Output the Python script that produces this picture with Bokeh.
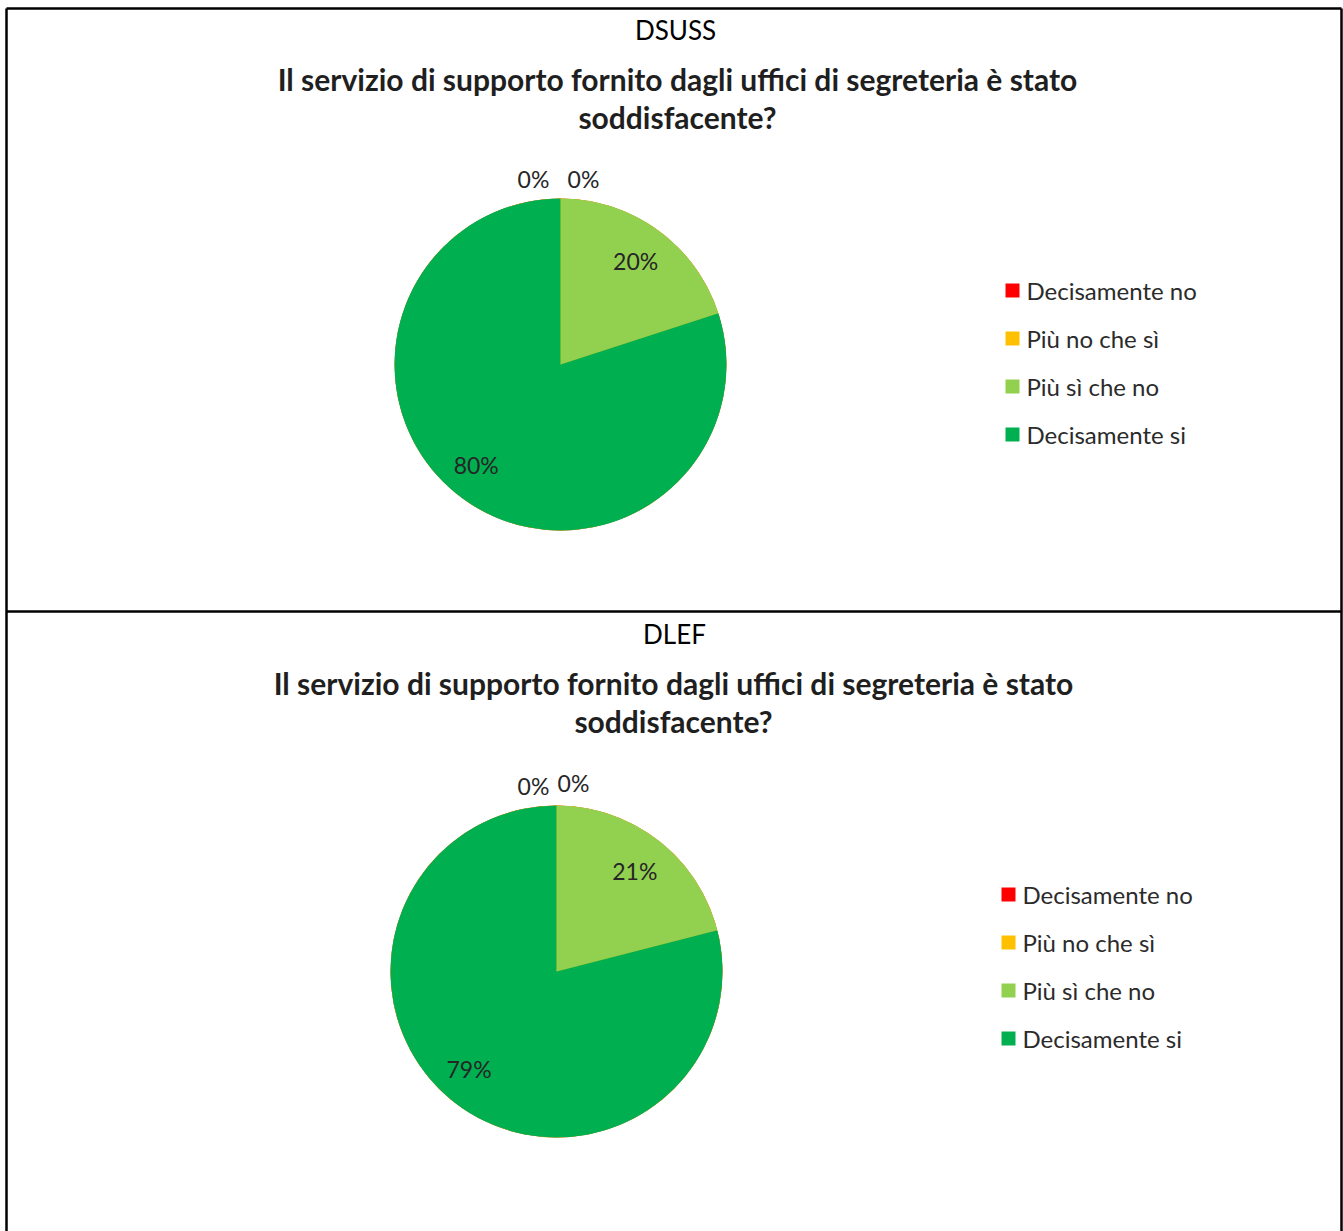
import math
from bokeh.plotting import figure
from bokeh.models import Range1d, ColumnDataSource
from bokeh.core.properties import value
from bokeh.embed import file_html
from bokeh.resources import INLINE

# ---- data -------------------------------------------------------------
categories = ["Decisamente no", "Più no che sì", "Più sì che no", "Decisamente si"]
colors = ["#FF0000", "#FFC000", "#92D050", "#00B050"]
panel_names = ["DSUSS", "DLEF"]
dsuss_pct = [0, 0, 20, 80]
dlef_pct = [0, 0, 21, 79]
title_lines = ["Il servizio di supporto fornito dagli uffici di segreteria è stato",
               "soddisfacente?"]

W, H = 1343, 1231
FONT = "Lato"

p = figure(width=W, height=H, x_range=Range1d(0, W), y_range=Range1d(0, H),
           x_axis_type=None, y_axis_type=None, min_border=0,
           toolbar_location=None, output_backend="svg")
p.grid.visible = False
p.outline_line_color = None
p.background_fill_color = "white"


def Y(y):
    # page pixels (top-down) -> plot units (bottom-up)
    return H - y


# table borders
p.multi_line(xs=[[6, 1341], [6, 6], [1341, 1341], [6, 1341]],
             ys=[[Y(8), Y(8)], [Y(8), Y(H + 5)], [Y(8), Y(H + 5)], [Y(611), Y(611)]],
             line_color="black", line_width=2.5)

panels = [
    dict(name=panel_names[0], vals=dsuss_pct, top=0, hx=675, cx=560, cy=364, tx=677,
         lx=1005, zero_dx=[-27, 23], zero_dy=[-1, -1]),
    dict(name=panel_names[1], vals=dlef_pct, top=604, hx=674, cx=556, cy=971, tx=673,
         lx=1001, zero_dx=[-23, 17], zero_dy=[-1, -4]),
]
R = 166
# inside labels of large slices sit slightly past the slice middle
BIG_SLICE_BIAS = math.radians(4)

for pn in panels:
    top = pn["top"]
    vals = pn["vals"]
    total = float(sum(vals))

    # cell header and chart title
    p.text(x=[pn["hx"]], y=[Y(top + 29)], text=[pn["name"]],
           text_font=value(FONT), text_font_size=value("26px"), text_color="black",
           text_align="center", text_baseline="middle")
    p.text(x=[pn["tx"], pn["tx"]], y=[Y(top + 78), Y(top + 116)], text=title_lines,
           text_font=value(FONT), text_font_style="bold", text_font_size=value("30px"),
           text_color="#1f1f1f", text_align="center", text_baseline="middle")

    # pie slices, clockwise from twelve o'clock
    starts, ends, lab_x, lab_y, lab_t = [], [], [], [], []
    cum = 0.0
    zero_i = 0
    for v in vals:
        a0 = math.pi / 2 - 2 * math.pi * cum / total
        a1 = math.pi / 2 - 2 * math.pi * (cum + v) / total
        starts.append(a0)
        ends.append(a1)
        mid = (a0 + a1) / 2
        if v == 0:
            rr = 1.11 * R
            lab_x.append(pn["cx"] + rr * math.cos(mid) + pn["zero_dx"][zero_i])
            lab_y.append(Y(pn["cy"]) + rr * math.sin(mid) - pn["zero_dy"][zero_i])
            zero_i += 1
        else:
            big = v / total > 0.5
            rr = (0.79 if big else 0.77) * R
            ang = mid - (BIG_SLICE_BIAS if big else 0.0)
            lab_x.append(pn["cx"] + rr * math.cos(ang))
            lab_y.append(Y(pn["cy"]) + rr * math.sin(ang))
        lab_t.append(f"{v}%")
        cum += v

    src = ColumnDataSource(dict(start=starts, end=ends, color=colors))
    p.wedge(x=pn["cx"], y=Y(pn["cy"]), radius=R, start_angle="start", end_angle="end",
            direction="clock", fill_color="color", line_color=None, source=src)

    p.text(x=lab_x, y=lab_y, text=lab_t, text_font=value(FONT),
           text_font_size=value("23px"), text_color="#262626",
           text_align="center", text_baseline="middle")

    # legend
    ly = [Y(top + 290 + 48 * i) for i in range(len(categories))]
    p.rect(x=[pn["lx"] + 7] * len(categories), y=ly, width=14, height=14,
           fill_color=colors, line_color=None)
    p.text(x=[pn["lx"] + 21] * len(categories), y=ly, text=categories,
           text_font=value(FONT), text_font_size=value("24px"), text_color="#2b2b2b",
           text_align="left", text_baseline="middle")

open("out.html", "w").write(file_html(p, INLINE))
